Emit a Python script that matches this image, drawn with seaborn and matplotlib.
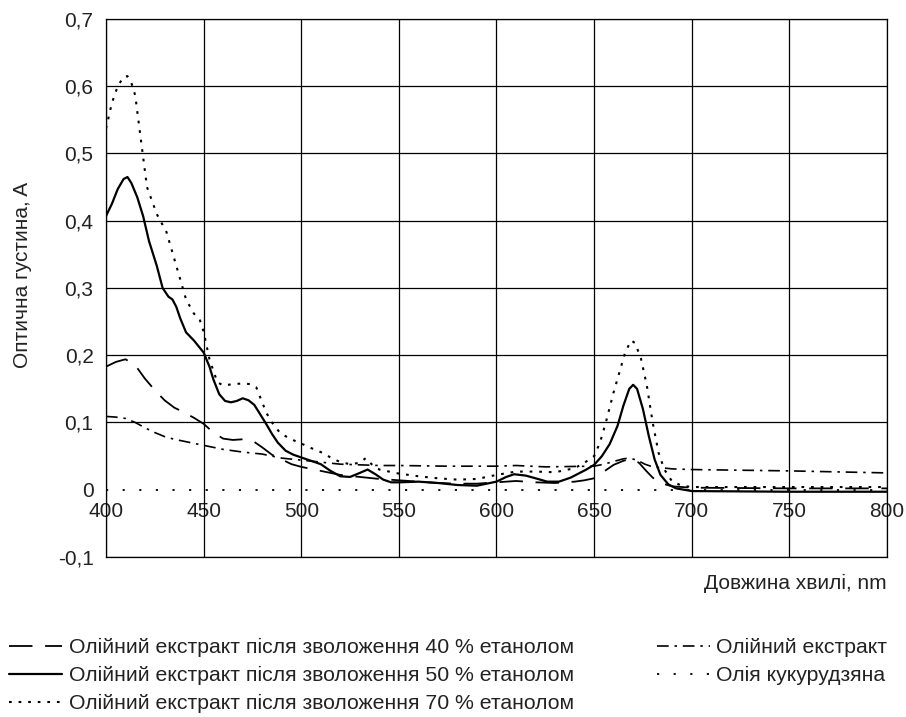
import matplotlib
matplotlib.use("Agg")
import matplotlib.pyplot as plt
import seaborn as sns
import pandas as pd

# ---- data ----
x_ticks = [400, 450, 500, 550, 600, 650, 700, 750, 800]
x_tick_labels = ["400", "450", "500", "550", "600", "650", "700", "750", "800"]
y_ticks = [-0.1, 0.0, 0.1, 0.2, 0.3, 0.4, 0.5, 0.6, 0.7]
y_tick_labels = ["-0,1", "0", "0,1", "0,2", "0,3", "0,4", "0,5", "0,6", "0,7"]

labels = [
    "Олійний екстракт після зволоження 40 % етанолом",
    "Олійний екстракт після зволоження 50 % етанолом",
    "Олійний екстракт після зволоження 70 % етанолом",
    "Олійний екстракт",
    "Олія кукурудзяна",
]

e40_x = [400, 405, 410, 415, 420, 425, 430, 435, 440, 445, 450, 455, 460, 465, 470, 475, 480, 485, 490,
         495, 500, 510, 520, 530, 540, 550, 560, 570, 580, 590, 600, 610, 620, 630, 640, 645, 650, 655,
         660, 665, 669, 673, 677, 680, 684, 690, 700, 750, 800]
e40_y = [0.183, 0.19, 0.194, 0.185, 0.165, 0.148, 0.133, 0.122, 0.115, 0.107, 0.098, 0.085, 0.076, 0.074,
         0.075, 0.073, 0.063, 0.052, 0.045, 0.038, 0.034, 0.028, 0.022, 0.019, 0.016, 0.014, 0.012, 0.010,
         0.009, 0.009, 0.011, 0.013, 0.011, 0.010, 0.012, 0.014, 0.017, 0.027, 0.037, 0.043, 0.046, 0.040,
         0.027, 0.018, 0.010, 0.005, 0.003, 0.002, 0.002]

e50_x = [400, 403, 406, 409, 411, 413, 416, 419, 422, 426, 429, 432, 434, 436, 438, 441, 445, 450, 453,
         455, 458, 461, 464, 467, 470, 473, 476, 479, 482, 485, 488, 492, 496, 500, 505, 510, 515, 520,
         525, 530, 534, 538, 542, 546, 550, 560, 570, 580, 590, 600, 605, 609, 615, 620, 626, 632, 638,
         642, 646, 650, 654, 658, 662, 665, 668, 670, 672, 675, 678, 681, 684, 688, 692, 700, 750, 800]
e50_y = [0.407, 0.425, 0.447, 0.462, 0.465, 0.456, 0.435, 0.407, 0.37, 0.333, 0.3, 0.287, 0.283, 0.272,
         0.255, 0.234, 0.222, 0.204, 0.183, 0.164, 0.142, 0.132, 0.13, 0.132, 0.136, 0.133, 0.126, 0.112,
         0.098, 0.083, 0.07, 0.058, 0.052, 0.048, 0.043, 0.038, 0.028, 0.02, 0.019, 0.025, 0.03, 0.023,
         0.015, 0.011, 0.011, 0.012, 0.01, 0.007, 0.006, 0.012, 0.019, 0.023, 0.021, 0.017, 0.012, 0.012,
         0.018, 0.024, 0.03, 0.037, 0.05, 0.068, 0.095, 0.125, 0.15, 0.156, 0.15, 0.12, 0.08, 0.045, 0.022,
         0.008, 0.002, -0.002, -0.003, -0.003]

e70_x = [400, 403, 406, 409, 411, 413, 415, 417, 421, 426, 431, 436, 441, 445, 448, 450, 453, 457, 460,
         465, 470, 474, 477, 480, 482, 485, 489, 494, 499, 505, 510, 515, 520, 525, 530, 533, 536, 540,
         545, 550, 560, 570, 580, 590, 600, 610, 620, 630, 640, 645, 650, 653, 656, 660, 663, 666, 669,
         671, 674, 677, 680, 683, 686, 690, 695, 700, 750, 800]
e70_y = [0.537, 0.575, 0.6, 0.614, 0.615, 0.605, 0.586, 0.54, 0.45, 0.41, 0.383, 0.333, 0.283, 0.262,
         0.253, 0.235, 0.194, 0.16, 0.155, 0.157, 0.158, 0.157, 0.152, 0.13, 0.115, 0.1, 0.085, 0.076,
         0.07, 0.062, 0.056, 0.048, 0.041, 0.038, 0.04, 0.047, 0.038, 0.03, 0.027, 0.024, 0.02, 0.017,
         0.015, 0.016, 0.022, 0.027, 0.027, 0.026, 0.032, 0.04, 0.05, 0.07, 0.1, 0.145, 0.175, 0.205,
         0.222, 0.218, 0.195, 0.155, 0.1, 0.055, 0.03, 0.012, 0.006, 0.004, 0.004, 0.004]

ext_x = [400, 405, 410, 415, 420, 425, 430, 435, 440, 450, 460, 470, 480, 490, 500, 510, 520, 530, 540,
         550, 575, 600, 610, 625, 650, 655, 660, 665, 668, 672, 676, 680, 690, 700, 750, 800]
ext_y = [0.109, 0.108, 0.106, 0.1, 0.092, 0.085, 0.079, 0.075, 0.072, 0.066, 0.06, 0.056, 0.053, 0.047,
         0.044, 0.041, 0.038, 0.037, 0.036, 0.036, 0.035, 0.035, 0.036, 0.034, 0.035, 0.038, 0.042, 0.046,
         0.047, 0.044, 0.038, 0.034, 0.031, 0.03, 0.028, 0.025]

corn_x = [400, 800]
corn_y = [0.0, 0.0]

series_x = [e40_x, e50_x, e70_x, ext_x, corn_x]
series_y = [e40_y, e50_y, e70_y, ext_y, corn_y]

# ---- style ----
sns.set_style("white")
plt.rcParams["font.family"] = ["Liberation Sans", "DejaVu Sans"]
FS = 15
LFS = 15.3

styles = [
    dict(linestyle=(0, (13, 7)), linewidth=1.3),
    dict(linestyle="-", linewidth=1.6),
    dict(linestyle=(0, (1.3, 3.3)), linewidth=1.5),
    dict(linestyle=(0, (7, 3.5, 1.5, 3.5)), linewidth=1.2),
    dict(linestyle=(0, (1.2, 8)), linewidth=1.3),
]

fig = plt.figure(figsize=(9.06, 7.17), dpi=100)
ax = fig.add_axes([0.117, 0.2232, 0.862, 0.7503])

for xs, ys, lab, st in zip(series_x, series_y, labels, styles):
    df = pd.DataFrame({"x": xs, "y": ys})
    sns.lineplot(data=df, x="x", y="y", ax=ax, color="black", label=lab, sort=False, **st)

ax.set_xlim(400, 800)
ax.set_ylim(-0.1, 0.7)
ax.set_xticks(x_ticks)
ax.set_yticks(y_ticks)
ax.set_yticklabels(y_tick_labels, fontsize=FS)
ax.tick_params(axis="x", length=0, labelbottom=False)
ax.tick_params(axis="y", length=0, pad=9, labelcolor="#222222")
ax.grid(True, color="black", linewidth=0.9)
for v, gl in zip(y_ticks, ax.yaxis.get_gridlines()):
    if v == 0.0:
        gl.set_visible(False)
for s in ax.spines.values():
    s.set_color("black")
    s.set_linewidth(0.9)
ax.set_xlabel("")
ax.set_ylabel("")

sec = ax.secondary_xaxis(0.125)
sec.set_xticks(x_ticks)
sec.set_xticklabels(x_tick_labels, fontsize=FS, color="#222222")
sec.tick_params(length=0, pad=9)
sec.spines["bottom"].set_visible(False)

fig.text(0.979, 0.186, "Довжина хвилі, nm", ha="right", va="center", fontsize=FS, color="#222222")
fig.text(0.025, 0.617, "Оптична густина, A", rotation=90, ha="center", va="center", fontsize=FS,
         color="#222222")

handles, labs = ax.get_legend_handles_labels()
ax.get_legend().remove()
common = dict(loc="upper left", frameon=False, fontsize=LFS, handlelength=2.5, handletextpad=0.3,
              labelspacing=0.42, borderaxespad=0, borderpad=0, labelcolor="#222222")
leg1 = fig.legend(handles[:3], labs[:3], bbox_to_anchor=(0.010, 0.110), **common)
leg2 = fig.legend(handles[3:], labs[3:], bbox_to_anchor=(0.725, 0.110), **common)

fig.savefig("out.png", dpi=100)
